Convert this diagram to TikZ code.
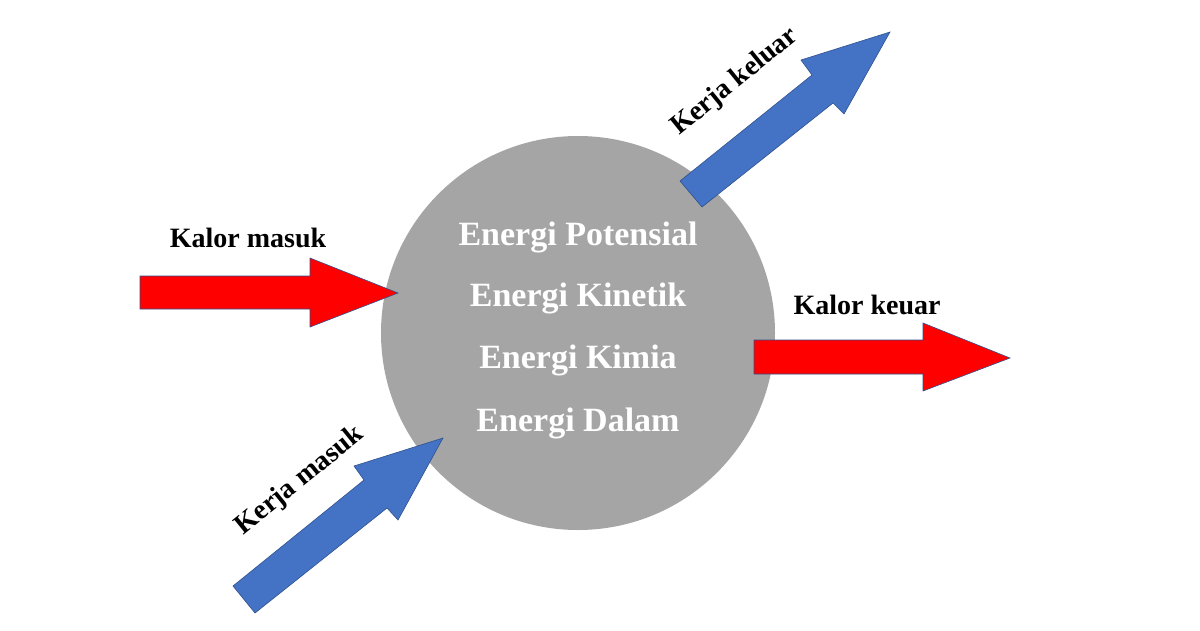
\documentclass[tikz,border=0pt]{standalone}
\usepackage{fontspec}
\setmainfont{Liberation Serif}
\definecolor{ballgray}{HTML}{A5A5A5}
\definecolor{heatred}{HTML}{FF0000}
\definecolor{workblue}{HTML}{4472C4}
\definecolor{edgeblue}{HTML}{2F528F}
\begin{document}
\begin{tikzpicture}[x=1pt,y=-1pt,
  fatarrow/.style={draw=edgeblue,line width=0.6pt,line join=miter},
  lbl/.style={font=\bfseries\fontsize{28}{30}\selectfont,text=black,inner sep=0pt},
  inner/.style={font=\bfseries\fontsize{34}{36}\selectfont,text=white,inner sep=0pt}]
\useasboundingbox (0,0) rectangle (1200,630);
\fill[white] (0,0) rectangle (1200,630);
% system
\node[circle,fill=ballgray,minimum size=394pt,inner sep=0pt] (sys) at (578,333) {};
% heat in
\fill[heatred,fatarrow] (140,276) -- (310,276) -- (310,258) -- (398,293) -- (310,327) -- (310,309) -- (140,309) -- cycle;
% heat out
\fill[heatred,fatarrow] (754,340) -- (923,340) -- (923,323) -- (1010,358) -- (923,391) -- (923,374) -- (754,374) -- cycle;
% work in
\fill[workblue,fatarrow] (233,586) -- (364,480) -- (354,466) -- (443,438) -- (398,520) -- (387,508) -- (255,613) -- cycle;
% work out
\fill[workblue,fatarrow] (680,181) -- (812,75) -- (801,60) -- (890,32) -- (844,114) -- (833,103) -- (702,207) -- cycle;
% texts
\node[inner] (t1) at (578,237) {Energi Potensial};
\node[inner] (t2) at (578,298) {Energi Kinetik};
\node[inner] (t3) at (578,360) {Energi Kimia};
\node[inner] (t4) at (578,423) {Energi Dalam};
\node[lbl] (l1) at (248,238) {Kalor masuk};
\node[lbl] (l2) at (867,305) {Kalor keuar};
\node[lbl,rotate=39] (l3) at (300,481) {Kerja masuk};
\node[lbl,rotate=39] (l4) at (735,82) {Kerja keluar};
\end{tikzpicture}
\end{document}
